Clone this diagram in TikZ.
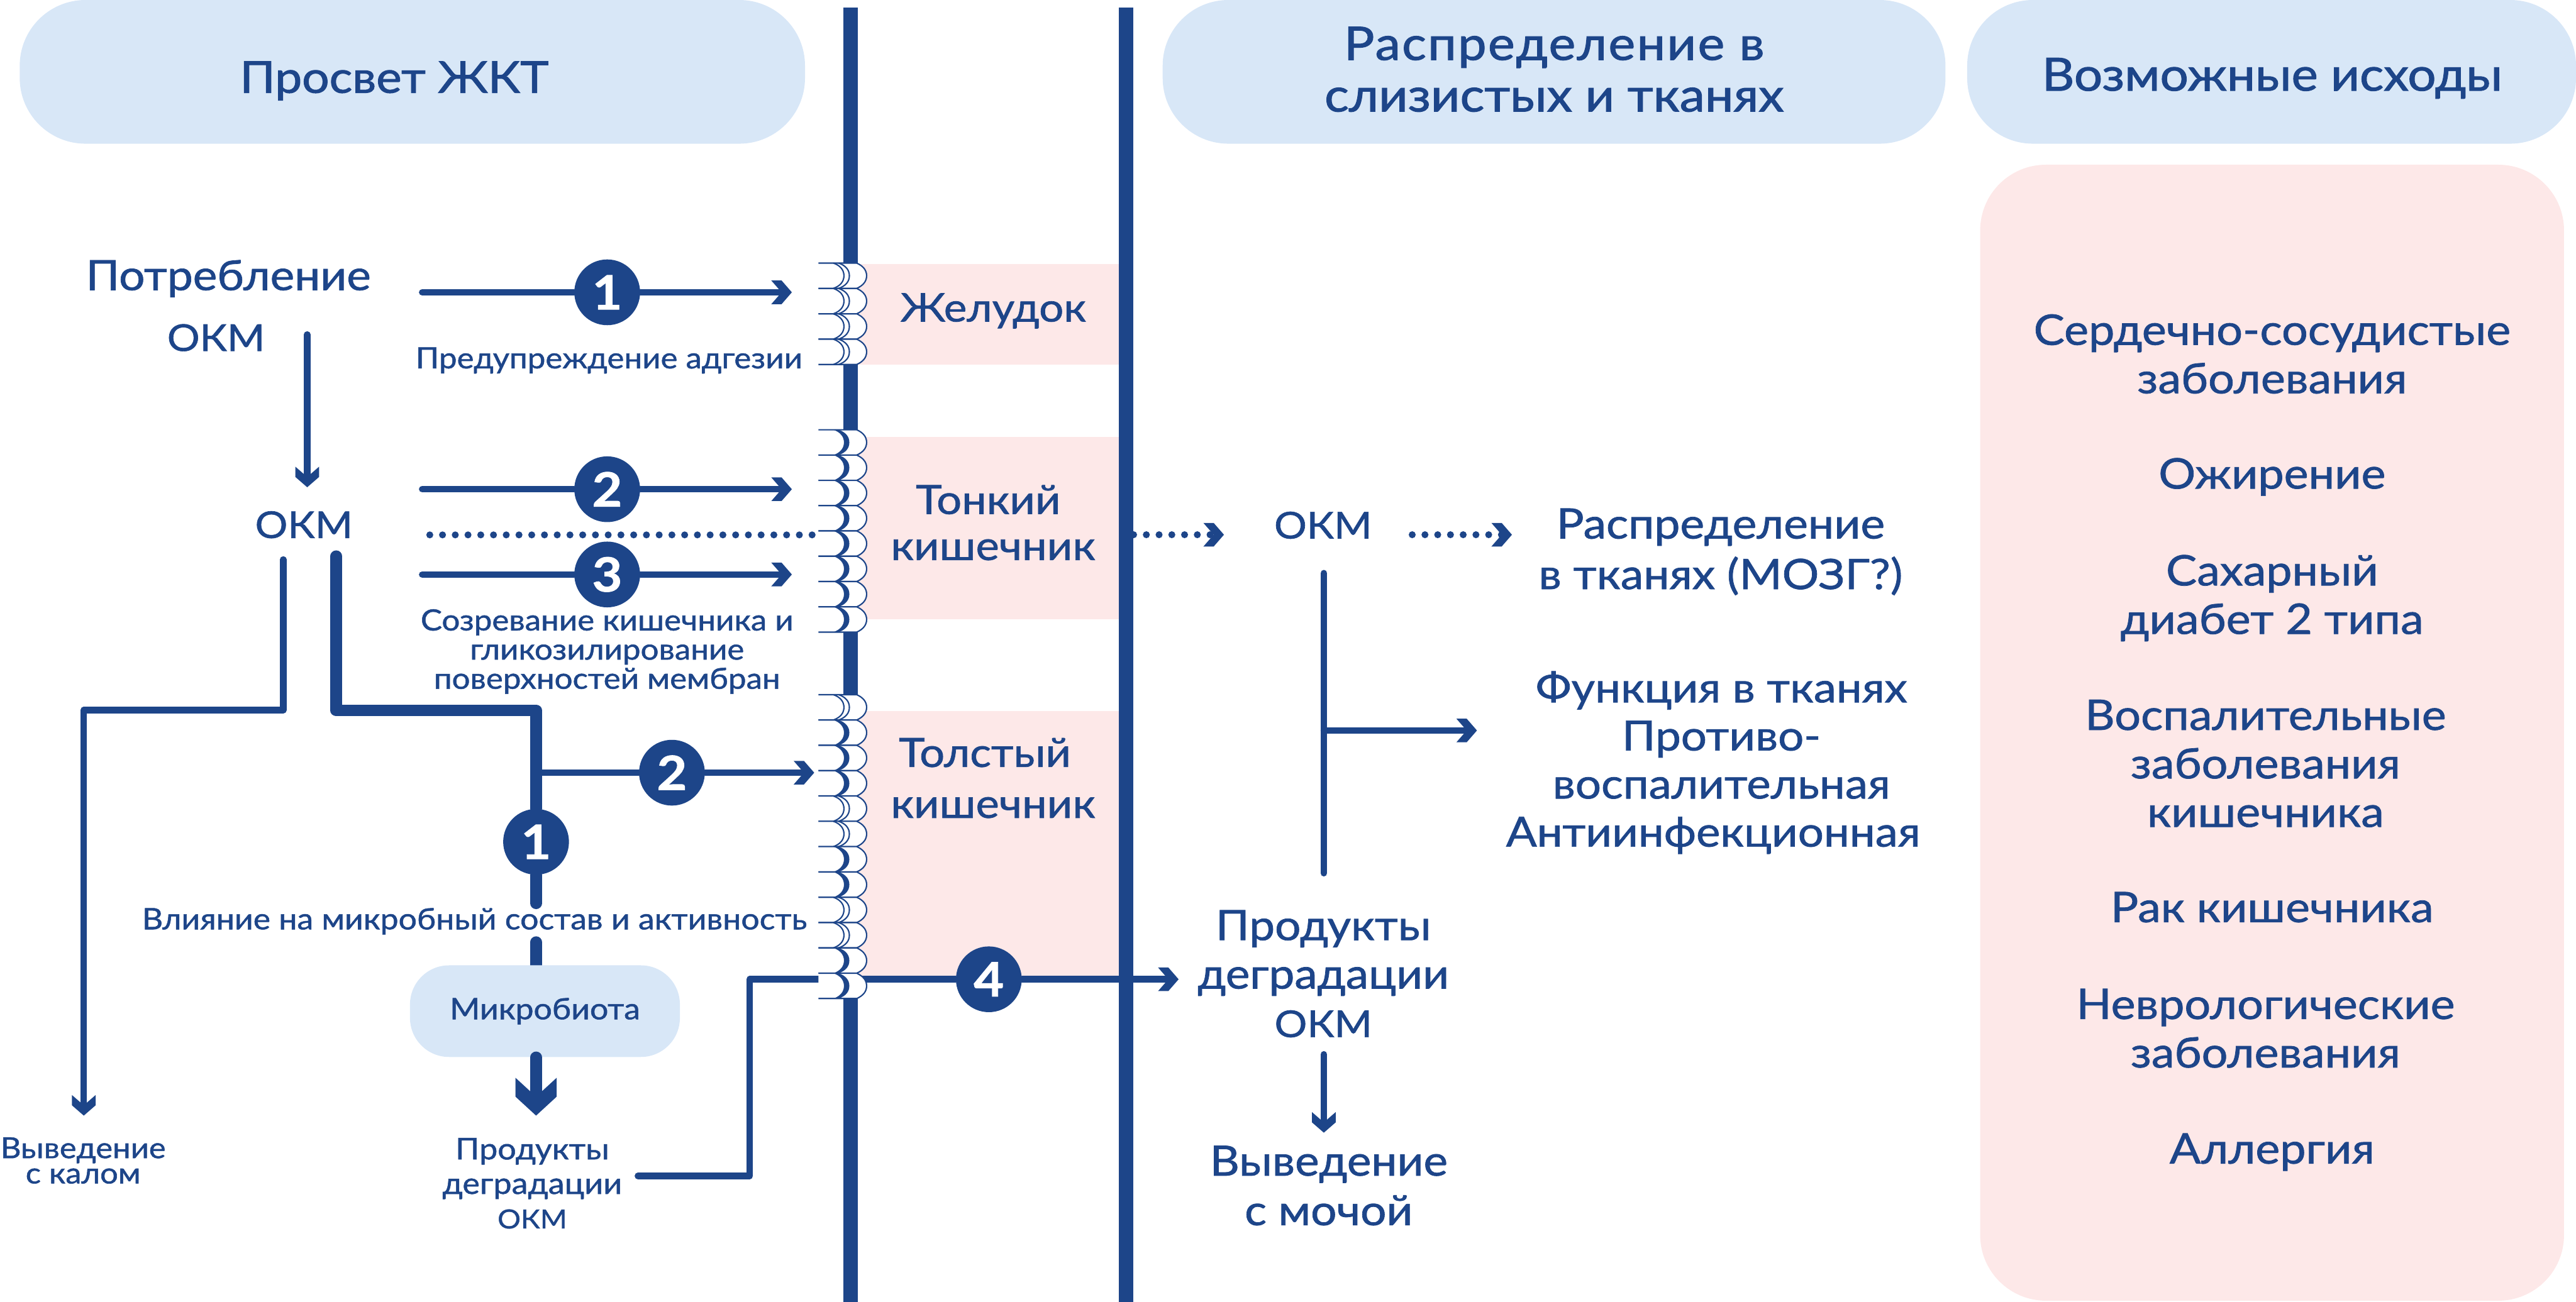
\documentclass[tikz,border=0pt]{standalone}
\usepackage{fontspec}
\setmainfont{Lato}[FakeBold=1.1,FakeStretch=1.10]
\newfontfamily\headfont{Lato}[FakeBold=1.5,FakeStretch=1.10]
\usetikzlibrary{arrows.meta}
\definecolor{navy}{HTML}{1D4589}
\definecolor{paleblue}{HTML}{D8E7F7}
\definecolor{palepink}{HTML}{FDE8E8}
\pgfdeclarearrow{
  name=Chev,
  parameters={\the\pgfarrowlength,\the\pgfarrowwidth},
  defaults={length=10pt,width=11.5pt},
  setup code={
    \pgfarrowssettipend{\pgfarrowlength}
    \pgfarrowssetbackend{0pt}
    \pgfarrowssetlineend{0.55\pgfarrowlength}
    \pgfarrowssetvisualbackend{0pt}
    \pgfarrowssavethe\pgfarrowlength
    \pgfarrowssavethe\pgfarrowwidth
  },
  drawing code={
    \pgfpathmoveto{\pgfqpoint{\pgfarrowlength}{0pt}}
    \pgfpathlineto{\pgfqpoint{0.5\pgfarrowlength}{0.5\pgfarrowwidth}}
    \pgfpathlineto{\pgfqpoint{0pt}{0.5\pgfarrowwidth}}
    \pgfpathlineto{\pgfqpoint{0.5\pgfarrowlength}{0pt}}
    \pgfpathlineto{\pgfqpoint{0pt}{-0.5\pgfarrowwidth}}
    \pgfpathlineto{\pgfqpoint{0.5\pgfarrowlength}{-0.5\pgfarrowwidth}}
    \pgfpathclose
    \pgfusepathqfill
  }
}
\tikzset{
  conn/.style={draw=navy,line width=3.2pt,line cap=round,line join=round},
  heavy/.style={draw=navy,line width=5.7pt,line cap=round,line join=round},
  arr/.style={-{Chev[length=10pt,width=11.5pt]}},
  heavyarr/.style={-{Chev[length=18.4pt,width=20pt]}},
  dots/.style={draw=navy,line width=3.4pt,line cap=round,dash pattern=on 0pt off 6.2pt},
  numc/.style={circle,fill=navy,text=white,minimum size=32pt,inner sep=0pt,font=\fontsize{23}{23}\selectfont\bfseries},
  txt/.style={text=navy,inner sep=0pt,outer sep=0pt,align=center,anchor=base},
  thin villus/.style={draw=navy,line width=0.65pt},
}
\newcommand{\txtn}[6]{\node[txt,font=\fontsize{#4}{#5}\selectfont] (#1) at (#2,#3) {#6};}
\newcommand{\hdrn}[6]{\node[txt,font=\headfont\fontsize{#4}{#5}\selectfont] (#1) at (#2,#3) {#6};}
\newcommand{\okm}{{\fontsize{18}{18}\selectfont ОКМ}}
\newcommand{\okmsmall}{{\fontsize{12.8}{12.8}\selectfont ОКМ}}
\newcommand{\villusbase}[1]{%
  \fill[white] (498.2,#1) -- (521.5,#1) .. controls (525.5,#1+1.8) and (527.5,#1+4.4) .. (527.5,#1+7.7) .. controls (527.5,#1+11) and (525.5,#1+13.6) .. (521.5,#1+15.4) -- (498.2,#1+15.4) -- cycle;
  \draw[thin villus] (498.2,#1) -- (521.5,#1) .. controls (525.5,#1+1.8) and (527.5,#1+4.4) .. (527.5,#1+7.7) .. controls (527.5,#1+11) and (525.5,#1+13.6) .. (521.5,#1+15.4) -- (498.2,#1+15.4);
}
\newcommand{\villusthin}[1]{%
  \villusbase{#1}
  \draw[thin villus] (507.3,#1) .. controls (511.5,#1+1.5) and (513.7,#1+4.2) .. (513.7,#1+7.7) .. controls (513.7,#1+11.2) and (511.5,#1+13.9) .. (507.3,#1+15.4);
  \draw[thin villus] (510.5,#1) .. controls (514.8,#1+1.5) and (517,#1+4.2) .. (517,#1+7.7) .. controls (517,#1+11.2) and (514.8,#1+13.9) .. (510.5,#1+15.4);
}
\newcommand{\villusthick}[1]{%
  \villusbase{#1}
  \fill[navy] (507.3,#1) .. controls (511.5,#1+1.5) and (513.7,#1+4.2) .. (513.7,#1+7.7) .. controls (513.7,#1+11.2) and (511.5,#1+13.9) .. (507.3,#1+15.4) -- (510.5,#1+15.4) .. controls (514.8,#1+13.9) and (517,#1+11.2) .. (517,#1+7.7) .. controls (517,#1+4.2) and (514.8,#1+1.5) .. (510.5,#1) -- cycle;
}
\begin{document}
\begin{tikzpicture}[x=0.02809cm,y=-0.02809cm]
\useasboundingbox (0,0) rectangle (1568,792.8);
% header pills and panels
\fill[paleblue,rounded corners=32pt] (12,0) rectangle (490,87.5);
\fill[paleblue,rounded corners=32pt] (707.7,0) rectangle (1184.2,87.5);
\fill[paleblue,rounded corners=32pt] (1197.4,0) rectangle (1568,87.5);
\fill[palepink,rounded corners=32pt] (1205.3,100.3) rectangle (1560.7,792);
% organ bands
\fill[palepink] (517,160.6) rectangle (681,222);
\fill[palepink] (517,266) rectangle (681,377);
\fill[palepink] (517,433) rectangle (681,597);
% membranes
\fill[navy] (513.2,4.5) rectangle (522,792.8);
\fill[navy] (681,4.5) rectangle (690,792.8);
% nodes with numbers
\node[numc] (n1) at (369.6,178) {1};
\node[numc] (n2) at (369.6,297.9) {2};
\node[numc] (n3) at (369.6,349.8) {3};
\node[numc] (n2b) at (409,470.5) {2};
\node[numc] (n1b) at (326.3,512.6) {1};
\node[numc] (n4) at (601.9,596.3) {4};
% free ends
\coordinate (a1s) at (257,178);   \coordinate (a1e) at (482,178);
\coordinate (a2s) at (257,297.9); \coordinate (a2e) at (482,297.9);
\coordinate (a3s) at (257,349.8); \coordinate (a3e) at (482,349.8);
\coordinate (ds) at (261.6,325.7); \coordinate (de) at (495.6,325.7);
\coordinate (ps) at (187,203.7);  \coordinate (pe) at (187,296.7);
\coordinate (ts) at (172.4,340.7); \coordinate (tb) at (172.4,432.4); \coordinate (tc) at (51,432.4); \coordinate (te) at (51,679.3);
\coordinate (hs) at (204.7,338.7); \coordinate (hb) at (204.7,432.6); \coordinate (hc) at (326.3,432.6); \coordinate (hj) at (326.3,470.5); \coordinate (he) at (326.3,550);
\coordinate (b2e) at (495.6,470.5);
\coordinate (ms) at (326.3,573.7); \coordinate (me) at (326.3,679.3);
\coordinate (ks) at (388.3,716); \coordinate (kb) at (456.4,716); \coordinate (kc) at (456.4,596.3); \coordinate (kv) at (505,596.3);
\coordinate (fv) at (522,596.3); \coordinate (fe) at (717.4,596.3);
\coordinate (rs) at (690,325.6); \coordinate (re) at (745,325.6);
\coordinate (qs) at (859.6,325.6); \coordinate (qe) at (920.3,325.6);
\coordinate (vs) at (805.8,349); \coordinate (vj) at (805.8,444.8); \coordinate (ve) at (805.8,531.7); \coordinate (ve2) at (899,444.8);
\coordinate (us) at (805.8,642); \coordinate (ue) at (805.8,689.7);
% connectors
\draw[conn] (a1s) -- (n1);
\draw[conn,arr] (n1) -- (a1e);
\draw[conn] (a2s) -- (n2);
\draw[conn,arr] (n2) -- (a2e);
\draw[conn] (a3s) -- (n3);
\draw[conn,arr] (n3) -- (a3e);
\draw[dots] (ds) -- (de);
\draw[conn,arr] (ps) -- (pe);
\draw[conn,arr] (ts) -- (tb) -- (tc) -- (te);
\draw[heavy] (hs) -- (hb) -- (hc) -- (n1b);
\draw[heavy] (n1b) -- (he);
\draw[conn] (hj) -- (n2b);
\draw[conn,arr] (n2b) -- (b2e);
\draw[conn] (ks) -- (kb) -- (kc) -- (kv);
\draw[conn] (fv) -- (n4);
\draw[conn,arr] (n4) -- (fe);
\draw[dots,arr] (rs) -- (re);
\draw[dots,arr] (qs) -- (qe);
\draw[conn] (vs) -- (ve);
\draw[conn,arr] (vj) -- (ve2);
\draw[conn,arr] (us) -- (ue);
% villi
\foreach \k in {0,1,2,3} {\pgfmathsetmacro{\yy}{160.2+15.45*\k}\villusthin{\yy}}
\foreach \k in {0,...,7} {\pgfmathsetmacro{\yy}{261.7+15.4*\k}\villusthick{\yy}}
\foreach \k/\t in {0/thin,1/thick,2/thick,3/thick,4/thin,5/thin,6/thick,7/thick,8/thin,9/thin,10/thick,11/thick} {
  \pgfmathsetmacro{\yy}{423+15.42*\k}\csname villus\t\endcsname{\yy}}
% microbiota
\draw[heavy] (ms) -- (326.3,600);
\node[fill=paleblue,rounded corners=19pt,minimum width=131.3pt,minimum height=44.6pt,inner sep=0pt,text=navy,font=\fontsize{14.4}{15}\selectfont] (mb) at (331.7,615.7) {Микробиота};
\draw[heavy,heavyarr] (mb.south -| me) -- (me);
% text
\hdrn{t1}{240}{56.5}{21.3}{25}{Просвет ЖКТ}
\hdrn{t2}{946}{67.9}{22.5}{25.1}{{\addfontfeature{LetterSpace=3.3}Распределение в}\\слизистых и тканях}
\hdrn{t3}{1383}{55.2}{22.2}{25}{Возможные исходы}
\txtn{t4}{139}{213.7}{20.3}{29.6}{Потребление\\\okm\kern12pt}
\txtn{t5}{185}{327.6}{20.3}{24}{\okm}
\txtn{t6}{370.7}{224.3}{14.2}{16}{Предупреждение адгезии}
\txtn{t7}{369.5}{419.4}{14.2}{14.2}{Созревание кишечника и\\гликозилирование\\поверхностей мембран}
\txtn{t8}{288.8}{565.9}{14.4}{16}{Влияние на микробный состав и активность}
\txtn{t9}{50.6}{720.6}{14.1}{12.3}{Выведение\\с калом}
\txtn{t10}{324}{748}{14.5}{16.8}{Продукты\\деградации\\\okmsmall}
\txtn{t11}{604.6}{195.8}{19.2}{24}{Желудок}
\txtn{t12}{604.5}{341}{19.6}{22.4}{Тонкий\kern4.8pt\\кишечник}
\txtn{t13}{604.5}{498}{19.6}{24.8}{Толстый\kern8pt\\кишечник}
\txtn{t14}{805.3}{327.9}{20.3}{24}{\okm}
\txtn{t15}{1047.3}{358.7}{20.4}{24.6}{Распределение\\в тканях (МОЗГ?)}
\txtn{t16}{1047.8}{515.5}{20.2}{23.4}{Функция в тканях\\Противо-\\воспалительная\\Антиинфекционная\kern8pt}
\txtn{t17}{805.5}{631.5}{20.3}{23.6}{Продукты\\деградации\\\okm}
\txtn{t18}{808.8}{746}{20.3}{24.1}{Выведение\\с мочой}
\txtn{t19}{1383}{239.5}{20.5}{23.6}{Сердечно-сосудистые\\заболевания}
\txtn{t20}{1383}{297.5}{20.5}{23.6}{Ожирение}
\txtn{t21}{1383}{386}{20.5}{23.6}{Сахарный\\диабет 2 типа}
\txtn{t22}{1379}{503.5}{20.5}{23.6}{Воспалительные\\заболевания\\кишечника}
\txtn{t23}{1383}{561.5}{20.5}{23.6}{Рак кишечника}
\txtn{t24}{1379}{650}{20.5}{23.6}{Неврологические\\заболевания}
\txtn{t25}{1383}{708.5}{20.5}{23.6}{Аллергия}
\end{tikzpicture}
\end{document}
